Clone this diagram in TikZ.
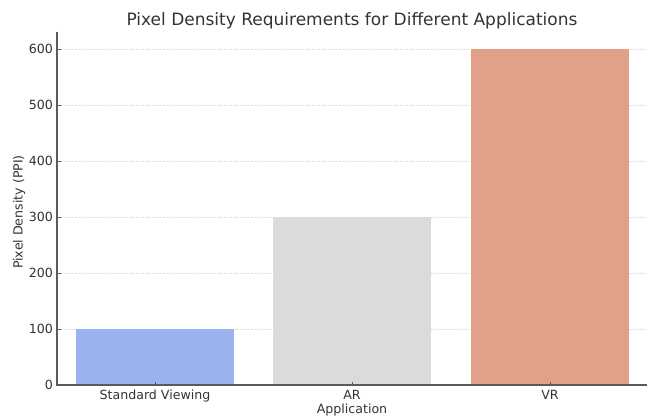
\documentclass[tikz,border=0pt]{standalone}
\usepackage{fontspec}
\setmainfont{DejaVu Sans}
\definecolor{barblue}{HTML}{9AB3EE}
\definecolor{bargray}{HTML}{DCDADB}
\definecolor{barorange}{HTML}{E3A088}
\definecolor{ink}{HTML}{333333}
\definecolor{spinecol}{HTML}{5A5A5A}
\definecolor{gridcol}{HTML}{D4D4D4}
\tikzset{
  gridline/.style={draw=gridcol, line width=0.6pt, dash pattern=on 1pt off 1.2pt},
  spine/.style={draw=spinecol, line width=1.2pt},
  tickmark/.style={draw=spinecol, line width=0.9pt},
  ticklabel/.style={text=ink, font=\fontsize{12.6}{14}\selectfont, inner sep=0pt},
  axislabel/.style={text=ink, font=\fontsize{12.6}{14}\selectfont, inner sep=0pt},
  charttitle/.style={text=ink, font=\fontsize{17}{19}\selectfont, inner sep=0pt},
}
\begin{document}
\begin{tikzpicture}[x=1pt,y=-1pt]
\useasboundingbox (0,0) rectangle (647,419);
% horizontal grid at 100..600 (0 -> 385, 100 -> 56 units)
\foreach \k in {1,...,6}
  \draw[gridline] (57,{385-56*\k}) -- (647,{385-56*\k});
% bars
\fill[barblue]   (76,385)  rectangle (234,329);
\fill[bargray]   (273,385) rectangle (431,217);
\fill[barorange] (471,385) rectangle (629,49);
% spines
\draw[spine] (57,32) -- (57,385) -- (647,385);
% y ticks (pointing inward) and labels
\foreach \k/\lab in {0/0,1/100,2/200,3/300,4/400,5/500,6/600} {
  \draw[tickmark] (57,{385-56*\k}) -- (60.5,{385-56*\k});
  \node[ticklabel, anchor=east] (yt\k) at (53,{385-56*\k}) {\lab};
}
% x ticks (pointing inward) and labels
\foreach \x/\nm/\lab in {155/sv/Standard Viewing,352/ar/AR,550/vr/VR} {
  \draw[tickmark] (\x,385) -- (\x,381.5);
  \node[ticklabel, anchor=base] (xt\nm) at (\x,399) {\lab};
}
\node[axislabel, anchor=base] (xlab) at (352,413.5) {Application};
\node[axislabel, rotate=90, anchor=base] (ylab) at (22.5,212) {Pixel Density (PPI)};
\node[charttitle, anchor=base] (title) at (352,25.3) {Pixel Density Requirements for Different Applications};
\end{tikzpicture}
\end{document}
